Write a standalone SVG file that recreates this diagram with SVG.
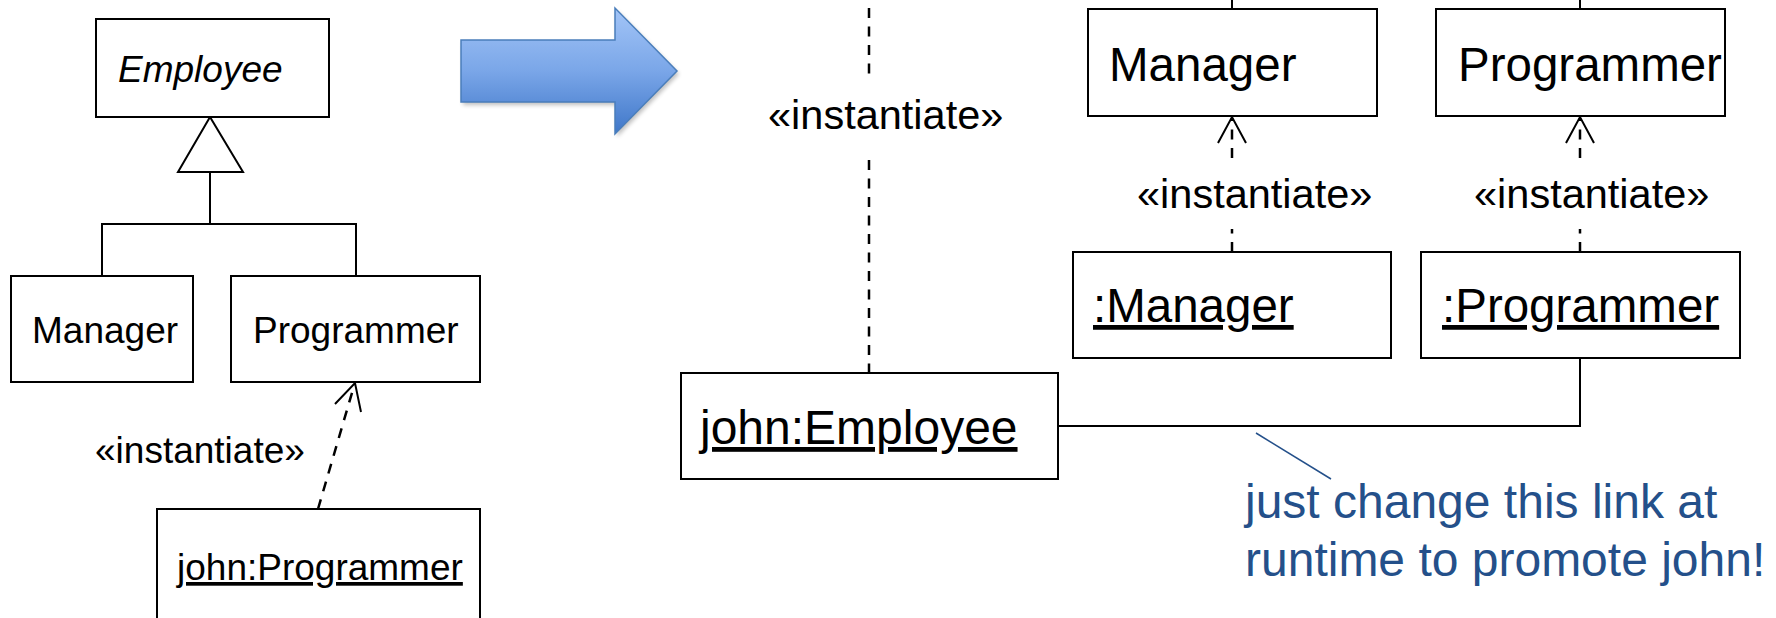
<svg xmlns="http://www.w3.org/2000/svg" width="1776" height="618" viewBox="0 0 1776 618">
  <style>
    .box { fill: #ffffff; stroke: #000000; stroke-width: 2; }
    .line { fill: none; stroke: #000000; stroke-width: 2; }
    .dash { fill: none; stroke: #000000; stroke-width: 2.5; stroke-dasharray: 10 8.5; }
    .head { fill: none; stroke: #000000; stroke-width: 2; stroke-linejoin: miter; }
    .t { font-family: "Liberation Sans", Arial, sans-serif; fill: #000000; }
    .s { font-size: 37px; }
    .l { font-size: 47.5px; }
    .m { font-size: 41.5px; }
    .u { text-decoration: underline; }
    .note { font-family: "Liberation Sans", Arial, sans-serif; font-size: 48px; fill: #24508a; }
  </style>
  <defs>
    <linearGradient id="arrowFill" x1="0" y1="0" x2="0" y2="1">
      <stop offset="0" stop-color="#a3c5f7"/>
      <stop offset="0.5" stop-color="#7aa6e8"/>
      <stop offset="1" stop-color="#3f77c9"/>
    </linearGradient>
    <filter id="soft" x="-10%" y="-10%" width="130%" height="130%">
      <feGaussianBlur stdDeviation="2"/>
    </filter>
  </defs>

  <rect width="1776" height="618" fill="#ffffff"/>

  <!-- connectors -->
  <g id="connectors">
    <!-- generalisation on the class side -->
    <polygon class="box" points="210,117 178,172 243,172"/>
    <polyline class="line" points="210,172 210,224"/>
    <polyline class="line" points="102,276 102,224 356,224 356,276"/>
    <!-- john:Programmer instantiates Programmer -->
    <line class="dash" x1="318" y1="509" x2="354" y2="386"/>
    <polyline class="head" points="335,404 355,383 361,412"/>

    <!-- middle instantiate dependency, cut by its label -->
    <line class="dash" x1="869" y1="8" x2="869" y2="76"/>
    <line class="dash" x1="869" y1="160" x2="869" y2="373"/>

    <!-- generalisation lines running off the top -->
    <line class="line" x1="1232" y1="0" x2="1232" y2="9"/>
    <line class="line" x1="1580" y1="0" x2="1580" y2="9"/>

    <!-- :Manager instantiates Manager -->
    <line class="dash" x1="1232" y1="252" x2="1232" y2="229"/>
    <line class="dash" x1="1232" y1="158" x2="1232" y2="118"/>
    <polyline class="head" points="1218,143 1232,117 1246,143"/>
    <!-- :Programmer instantiates Programmer -->
    <line class="dash" x1="1580" y1="252" x2="1580" y2="229"/>
    <line class="dash" x1="1580" y1="158" x2="1580" y2="118"/>
    <polyline class="head" points="1566,143 1580,117 1594,143"/>

    <!-- link from john to its current role -->
    <polyline class="line" points="1058,426 1580,426 1580,358"/>

    <!-- note pointer -->
    <line x1="1256" y1="433" x2="1331" y2="479" stroke="#24508a" stroke-width="1.5"/>
  </g>

  <!-- class side -->
  <g id="employee">
    <rect class="box" x="96" y="19" width="233" height="98"/>
    <text class="t s" x="118" y="82" font-style="italic">Employee</text>
  </g>
  <g id="manager-left">
    <rect class="box" x="11" y="276" width="182" height="106"/>
    <text class="t s" x="32" y="343">Manager</text>
  </g>
  <g id="programmer-left">
    <rect class="box" x="231" y="276" width="249" height="106"/>
    <text class="t s" x="253" y="343">Programmer</text>
  </g>
  <g id="john-programmer">
    <rect class="box" x="157" y="509" width="323" height="130"/>
    <text class="t s u" x="177" y="580">john:Programmer</text>
  </g>
  <g id="label-left">
    <text class="t s" x="95" y="463">«instantiate»</text>
  </g>

  <!-- transition arrow -->
  <g id="transition-arrow">
    <polygon points="461,40 615,40 615,8 677,71 615,134 615,102 461,102" transform="translate(2,3)" fill="#000000" opacity="0.25" filter="url(#soft)"/>
    <polygon points="461,40 615,40 615,8 677,71 615,134 615,102 461,102" fill="url(#arrowFill)" stroke="#4a7ebb" stroke-width="1.5"/>
  </g>

  <!-- object side -->
  <g id="label-middle">
    <text class="t m" x="768" y="129">«instantiate»</text>
  </g>
  <g id="manager-right">
    <rect class="box" x="1088" y="9" width="289" height="107"/>
    <text class="t l" x="1109" y="81">Manager</text>
  </g>
  <g id="programmer-right">
    <rect class="box" x="1436" y="9" width="289" height="107"/>
    <text class="t l" x="1458" y="81">Programmer</text>
  </g>
  <g id="label-manager">
    <text class="t m" x="1137" y="208">«instantiate»</text>
  </g>
  <g id="label-programmer">
    <text class="t m" x="1474" y="208">«instantiate»</text>
  </g>
  <g id="manager-object">
    <rect class="box" x="1073" y="252" width="318" height="106"/>
    <text class="t l u" x="1093" y="322">:Manager</text>
  </g>
  <g id="programmer-object">
    <rect class="box" x="1421" y="252" width="319" height="106"/>
    <text class="t l u" x="1442" y="322">:Programmer</text>
  </g>
  <g id="john-employee">
    <rect class="box" x="681" y="373" width="377" height="106" stroke-width="2.5"/>
    <text class="t u" x="700" y="444" font-size="48">john:Employee</text>
  </g>
  <g id="note">
    <text class="note" x="1245" y="518">just change this link at</text>
    <text class="note" x="1245" y="576">runtime to promote john!</text>
  </g>
</svg>
